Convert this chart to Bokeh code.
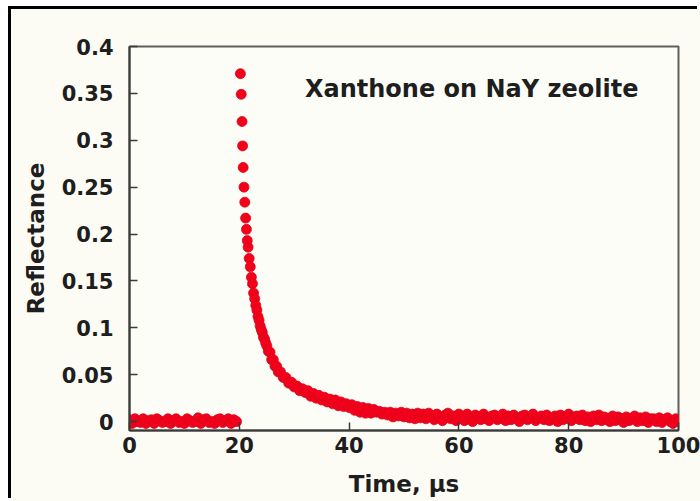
from bokeh.plotting import figure
from bokeh.models import Range1d, FixedTicker, Label
from bokeh.embed import file_html
from bokeh.resources import INLINE

title_text = "Xanthone on NaY zeolite"
x_label = "Time, µs"
y_label = "Reflectance"

x_ticks = [0, 20, 40, 60, 80, 100]
x_tick_labels = ["0", "20", "40", "60", "80", "100"]
y_ticks = [0, 0.05, 0.1, 0.15, 0.2, 0.25, 0.3, 0.35, 0.4]
y_tick_labels = ["0", "0.05", "0.1", "0.15", "0.2", "0.25", "0.3", "0.35", "0.4"]

# pre-flash baseline (µs, reflectance)
base_time = [0.0, 0.5, 1.0, 1.5, 2.0, 2.5, 3.0, 3.5, 4.0, 4.5,
             5.0, 5.5, 6.0, 6.5, 7.0, 7.5, 8.0, 8.5, 9.0, 9.5,
             10.0, 10.5, 11.0, 11.5, 12.0, 12.5, 13.0, 13.5, 14.0, 14.5,
             15.0, 15.5, 16.0, 16.5, 17.0, 17.5, 18.0, 18.5, 19.0, 19.5]
base_refl = [0.002, -0.002, 0.003, 0.000, -0.001, 0.003, -0.002, 0.001, 0.002, -0.002,
             0.003, 0.001, -0.001, 0.000, 0.003, -0.002, 0.001, 0.003, -0.001, 0.000,
             -0.002, 0.003, 0.001, -0.001, 0.000, 0.004, -0.002, 0.002, 0.003, -0.001,
             0.000, -0.002, 0.002, 0.003, -0.001, 0.001, 0.003, -0.002, 0.002, 0.000]

# transient decay after the laser flash
decay_time = [20.2, 20.35, 20.5, 20.6, 20.7, 20.85, 21.0, 21.15, 21.3, 21.45,
              21.6, 21.8, 22.0, 22.2, 22.4, 22.6, 22.8, 23.0, 23.2, 23.4,
              23.6, 23.8, 24.0, 24.2, 24.4, 24.6, 24.8, 25.0, 25.3, 25.6,
              25.9, 26.2, 26.5, 26.8, 27.1, 27.5, 28.0, 28.5, 29.0, 29.5,
              30.0, 30.5, 31.0, 31.5, 32.0, 32.5, 33.0, 33.5, 34.0, 34.5,
              35.0, 35.5, 36.0, 36.5, 37.0, 37.5, 38.0, 38.5, 39.0, 39.5,
              40.0]
decay_refl = [0.371, 0.349, 0.320, 0.294, 0.271, 0.250, 0.234, 0.217, 0.205, 0.193,
              0.186, 0.174, 0.165, 0.154, 0.147, 0.137, 0.131, 0.124, 0.119, 0.112,
              0.108, 0.102, 0.098, 0.095, 0.090, 0.088, 0.084, 0.081, 0.075, 0.074,
              0.066, 0.066, 0.059, 0.059, 0.053, 0.053, 0.047, 0.047, 0.041, 0.042,
              0.037, 0.038, 0.033, 0.035, 0.031, 0.033, 0.027, 0.030, 0.025, 0.028,
              0.023, 0.026, 0.021, 0.024, 0.019, 0.023, 0.017, 0.021, 0.016, 0.019,
              0.015]

# long-time tail
tail_time = [40.5, 41.0, 41.5, 42.0, 42.5, 43.0, 43.5, 44.0, 44.5, 45.0,
             45.5, 46.0, 46.5, 47.0, 47.5, 48.0, 48.5, 49.0, 49.5, 50.0,
             50.5, 51.0, 51.5, 52.0, 52.5, 53.0, 53.5, 54.0, 54.5, 55.0,
             55.5, 56.0, 56.5, 57.0, 57.5, 58.0, 58.5, 59.0, 59.5, 60.0,
             60.5, 61.0, 61.5, 62.0, 62.5, 63.0, 63.5, 64.0, 64.5, 65.0,
             65.5, 66.0, 66.5, 67.0, 67.5, 68.0, 68.5, 69.0, 69.5, 70.0,
             70.5, 71.0, 71.5, 72.0, 72.5, 73.0, 73.5, 74.0, 74.5, 75.0,
             75.5, 76.0, 76.5, 77.0, 77.5, 78.0, 78.5, 79.0, 79.5, 80.0,
             80.5, 81.0, 81.5, 82.0, 82.5, 83.0, 83.5, 84.0, 84.5, 85.0,
             85.5, 86.0, 86.5, 87.0, 87.5, 88.0, 88.5, 89.0, 89.5, 90.0,
             90.5, 91.0, 91.5, 92.0, 92.5, 93.0, 93.5, 94.0, 94.5, 95.0,
             95.5, 96.0, 96.5, 97.0, 97.5, 98.0, 98.5, 99.0, 99.5, 100.0]
tail_refl = [0.018, 0.012, 0.016, 0.010, 0.015, 0.009, 0.014, 0.009, 0.013, 0.010,
             0.011, 0.008, 0.010, 0.007, 0.010, 0.005, 0.009, 0.006, 0.010, 0.005,
             0.009, 0.004, 0.008, 0.003, 0.009, 0.004, 0.008, 0.003, 0.009, 0.005,
             0.002, 0.008, 0.004, 0.001, 0.007, 0.009, 0.003, 0.006, 0.001, 0.008,
             0.004, 0.001, 0.008, 0.003, 0.000, 0.007, 0.005, 0.002, 0.008, 0.003,
             0.001, 0.006, 0.007, 0.002, 0.004, 0.008, 0.001, 0.006, 0.002, 0.007,
             0.003, 0.000, 0.006, 0.007, 0.002, 0.004, 0.008, 0.001, 0.004, 0.006,
             0.002, 0.007, 0.001, 0.004, 0.006, 0.000, 0.007, 0.002, 0.005, 0.008,
             0.001, 0.005, 0.006, 0.002, 0.007, 0.001, 0.005, 0.000, 0.006, 0.002,
             0.007, 0.001, 0.005, 0.002, 0.000, 0.006, 0.001, 0.005, 0.003, -0.001,
             0.005, 0.001, 0.003, 0.006, 0.000, 0.004, 0.001, 0.005, -0.001, 0.003,
             0.003, 0.000, 0.004, -0.001, 0.002, 0.004, 0.000, -0.002, 0.003, 0.000]

FONT = "DejaVu Sans"
TEXT = "#1e1e1e"
BG = "#FCFCF4"

# canvas is shifted 11px/9px; a box-shadow draws the black top/left picture edge
p = figure(width=689, height=492, output_backend="svg", toolbar_location=None,
           x_range=Range1d(0, 100), y_range=Range1d(-0.0095, 0.4),
           min_border_left=118, min_border_right=22, min_border_top=37,
           min_border_bottom=71)
p.styles = {"position": "relative", "left": "11px", "top": "9px",
            "box-shadow": "-3px -3px 0px 0px black"}
p.background_fill_color = "#FDFDF7"
p.border_fill_color = BG
p.outline_line_color = "#5f5f5f"
p.outline_line_width = 2
p.grid.visible = False

for ax in (p.xaxis[0], p.yaxis[0]):
    ax.axis_line_color = "#3a3a3a"
    ax.axis_line_width = 2
    ax.major_tick_in = 8
    ax.major_tick_out = 0
    ax.major_tick_line_color = "#3a3a3a"
    ax.major_tick_line_width = 1.5
    ax.minor_tick_line_color = None
    ax.major_label_text_font = FONT
    ax.major_label_text_font_style = "bold"
    ax.major_label_text_font_size = "21px"
    ax.major_label_text_color = TEXT
    ax.axis_label_text_font = FONT
    ax.axis_label_text_font_style = "bold"
    ax.axis_label_text_font_size = "23px"
    ax.axis_label_text_color = TEXT

p.xaxis.ticker = FixedTicker(ticks=x_ticks)
p.xaxis.major_label_overrides = {t: s for t, s in zip(x_ticks, x_tick_labels)}
p.yaxis.ticker = FixedTicker(ticks=y_ticks)
p.yaxis.major_label_overrides = {t: s for t, s in zip(y_ticks, y_tick_labels)}
p.xaxis.axis_label = x_label
p.yaxis.axis_label = y_label
p.xaxis.major_label_standoff = 6
p.xaxis.axis_label_standoff = 15
p.yaxis.major_label_standoff = 16
p.yaxis.axis_label_standoff = 10

for tt, rr in ((base_time, base_refl), (decay_time, decay_refl), (tail_time, tail_refl)):
    p.scatter(tt, rr, marker="circle", size=10, fill_color="#F4001A",
              line_color="#D8081E", line_width=0.8)

p.add_layout(Label(x=92.7, y=0.355, text=title_text, text_align="right",
                   text_baseline="middle", text_font=FONT, text_font_style="bold",
                   text_font_size="24px", text_color=TEXT))

open("out.html", "w").write(file_html(p, INLINE))
